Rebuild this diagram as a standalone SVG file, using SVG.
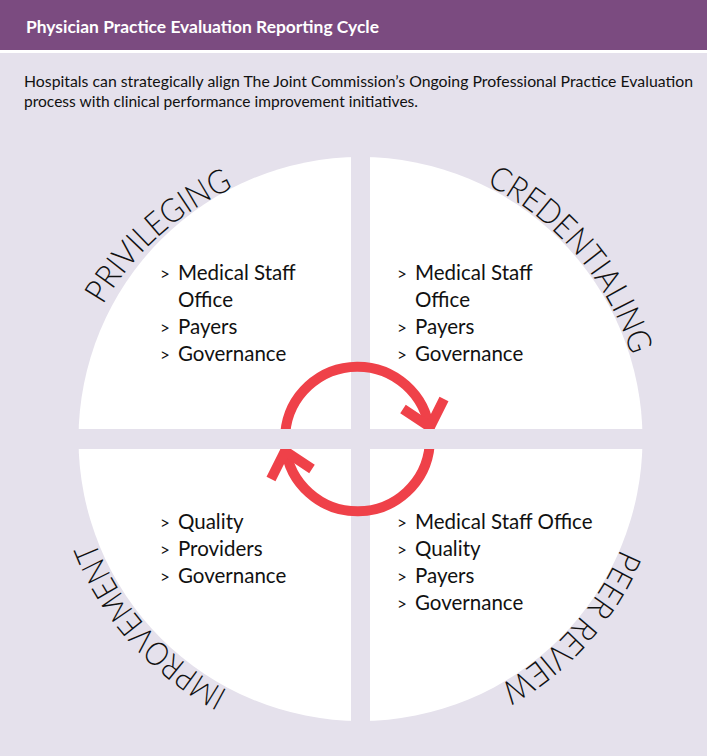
<svg xmlns="http://www.w3.org/2000/svg" width="707" height="756" viewBox="0 0 707 756">
<style>
.hdr{font-family:Lato,"Liberation Sans",sans-serif;font-weight:700;font-size:17.5px;fill:#fff}
.desc{font-family:Lato,"Liberation Sans",sans-serif;font-size:16px;fill:#111}
.item{font-family:Lato,"Liberation Sans",sans-serif;font-size:20.5px;fill:#111}
.chev{font-size:17px}
.arc{font-family:Lato,"Open Sans",sans-serif;font-weight:300;font-size:33px;fill:#111}
.quad{fill:#fff}
.band{fill:#E5E1EC}
.ring{fill:none;stroke:#EF4149;stroke-width:10}
.head{fill:none;stroke:#EF4149;stroke-width:10;stroke-linejoin:miter;stroke-miterlimit:10}
</style>
<defs>
<path id="pPriv" d="M103,305 A285,285 0 0 1 238,186"/>
<path id="pCred" d="M486.3,184.6 A284,284 0 0 1 632.3,358.3"/>
<path id="pImpr" d="M228,690.5 A284,284 0 0 1 94,538.5"/>
<path id="pPeer" d="M620.7,549.1 A283,283 0 0 1 497.2,686.5"/>
</defs>
<rect width="707" height="756" fill="#E5E1EC"/>
<rect width="707" height="50" fill="#7B4B80"/>
<rect y="50" width="707" height="3" fill="#fff"/>
<text class="hdr" x="26" y="33" textLength="353" lengthAdjust="spacingAndGlyphs">Physician Practice Evaluation Reporting Cycle</text>
<text class="desc" x="24" y="87" textLength="669" lengthAdjust="spacingAndGlyphs">Hospitals can strategically align The Joint Commission’s Ongoing Professional Practice Evaluation</text>
<text class="desc" x="24" y="107" textLength="394" lengthAdjust="spacingAndGlyphs">process with clinical performance improvement initiatives.</text>

<circle class="quad" cx="360.5" cy="439" r="282"/>
<rect class="band" x="351" y="140" width="19" height="600"/>

<g id="privileging">
<text class="arc"><textPath href="#pPriv" textLength="178" lengthAdjust="spacingAndGlyphs">PRIVILEGING</textPath></text>
<text class="item" y="280"><tspan class="chev" x="160">&gt;</tspan><tspan x="178">Medical Staff</tspan></text>
<text class="item" x="178" y="307">Office</text>
<text class="item" y="334"><tspan class="chev" x="160">&gt;</tspan><tspan x="178">Payers</tspan></text>
<text class="item" y="361"><tspan class="chev" x="160">&gt;</tspan><tspan x="178">Governance</tspan></text>
</g>

<g id="credentialing">
<text class="arc"><textPath href="#pCred" textLength="230" lengthAdjust="spacingAndGlyphs">CREDENTIALING</textPath></text>
<text class="item" y="280"><tspan class="chev" x="397">&gt;</tspan><tspan x="415">Medical Staff</tspan></text>
<text class="item" x="415" y="307">Office</text>
<text class="item" y="334"><tspan class="chev" x="397">&gt;</tspan><tspan x="415">Payers</tspan></text>
<text class="item" y="361"><tspan class="chev" x="397">&gt;</tspan><tspan x="415">Governance</tspan></text>
</g>

<g id="improvement">
<text class="arc"><textPath href="#pImpr" textLength="204" lengthAdjust="spacingAndGlyphs">IMPROVEMENT</textPath></text>
<text class="item" y="529"><tspan class="chev" x="160">&gt;</tspan><tspan x="178">Quality</tspan></text>
<text class="item" y="556"><tspan class="chev" x="160">&gt;</tspan><tspan x="178">Providers</tspan></text>
<text class="item" y="583"><tspan class="chev" x="160">&gt;</tspan><tspan x="178">Governance</tspan></text>
</g>

<g id="peer-review">
<text class="arc"><textPath href="#pPeer" textLength="186" lengthAdjust="spacingAndGlyphs">PEER REVIEW</textPath></text>
<text class="item" y="529"><tspan class="chev" x="397">&gt;</tspan><tspan x="415">Medical Staff Office</tspan></text>
<text class="item" y="556"><tspan class="chev" x="397">&gt;</tspan><tspan x="415">Quality</tspan></text>
<text class="item" y="583"><tspan class="chev" x="397">&gt;</tspan><tspan x="415">Payers</tspan></text>
<text class="item" y="610"><tspan class="chev" x="397">&gt;</tspan><tspan x="415">Governance</tspan></text>
</g>

<g id="connectors">
<g id="cycle-top">
<path class="ring" d="M285.3,432.7 A72.5,72.5 0 0 1 429.6,431.4"/>
<polyline class="head" points="403,409 430,427 444,399"/>
</g>
<g id="cycle-bottom" transform="rotate(180 357.5 439)">
<path class="ring" d="M285.3,432.7 A72.5,72.5 0 0 1 429.6,431.4"/>
<polyline class="head" points="403,409 430,427 444,399"/>
</g>
</g>
<rect class="band" x="60" y="429" width="600" height="20"/>
</svg>
